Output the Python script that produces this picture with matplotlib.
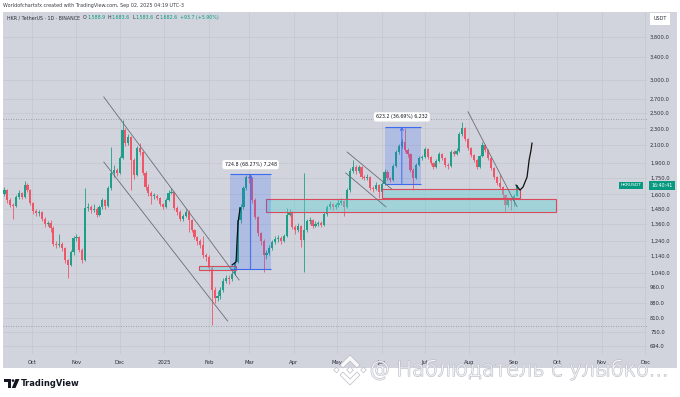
import matplotlib
matplotlib.use("Agg")
import matplotlib.pyplot as plt
import matplotlib.dates as mdates
import matplotlib.patheffects as pe
import matplotlib.transforms as mtransforms
from matplotlib.patches import Rectangle, Polygon, Circle
from matplotlib.ticker import FixedLocator, FuncFormatter, NullLocator
from matplotlib.colors import to_rgba
import pandas as pd

start_date = "2024-09-12"
first_open = 1600.0
closes = [1639, 1552, 1510, 1502, 1578, 1612, 1578, 1685, 1639, 1527,
          1461, 1445, 1450, 1398, 1360, 1368, 1331, 1219, 1212, 1219,
          1192, 1116, 1086, 1166, 1259, 1266, 1179, 1116, 1486, 1494,
          1469, 1477, 1430, 1494, 1552, 1502, 1658, 1800, 1830, 1800,
          1954, 2280, 2123, 2194, 1933, 1780, 2065, 2020, 1800, 1667,
          1612, 1586, 1590, 1569, 1518, 1494, 1552, 1612, 1621, 1486,
          1453, 1398, 1422, 1453, 1390, 1316, 1266, 1239, 1212, 1147,
          1135, 1068, 946, 906, 915, 946, 995, 1010, 1005, 1033,
          1104, 1390, 1494, 1658, 1761, 1751, 1552, 1414, 1294, 1239,
          1147, 1160, 1192, 1232, 1252, 1259, 1239, 1273, 1430, 1453,
          1338, 1316, 1345, 1246, 1316, 1383, 1390, 1345, 1360, 1368,
          1353, 1437, 1494, 1518, 1494, 1510, 1527, 1544, 1494, 1639,
          1820, 1860, 1820, 1860, 1761, 1751, 1761, 1658, 1648, 1685,
          1621, 1694, 1810, 1751, 1732, 1870, 2020, 2088, 2135, 2042,
          1998, 1830, 1751, 1881, 1954, 1965, 2054, 1965, 1902, 1860,
          1923, 1998, 1954, 1881, 1870, 2020, 1998, 2031, 2230, 2305,
          2170, 2065, 1987, 1933, 1860, 1976, 2100, 2042, 1954, 1850,
          1761, 1704, 1667, 1595, 1510, 1552, 1544, 1588.9, 1682.6]
highs = [1665, 1650, 1565, 1530, 1595, 1640, 1625, 1720, 1700, 1650,
         1535, 1480, 1470, 1460, 1410, 1385, 1390, 1345, 1240, 1290,
         1230, 1200, 1125, 1180, 1275, 1290, 1275, 1190, 1658, 1530,
         1510, 1520, 1490, 1510, 1570, 1560, 1680, 2077, 1880, 1850,
         1975, 2408, 2300, 2230, 2210, 1950, 2090, 2120, 2030, 1815,
         1690, 1630, 1610, 1605, 1580, 1530, 1565, 1640, 1660, 1630,
         1500, 1465, 1440, 1480, 1465, 1400, 1325, 1275, 1250, 1270,
         1160, 1150, 1080, 960, 940, 960, 1010, 1030, 1025, 1050,
         1120, 1410, 1520, 1680, 1785, 1790, 1760, 1570, 1425, 1305,
         1250, 1180, 1210, 1245, 1270, 1280, 1270, 1290, 1486, 1480,
         1460, 1350, 1370, 1355, 1800, 1400, 1410, 1400, 1380, 1385,
         1380, 1450, 1510, 1540, 1530, 1530, 1560, 1565, 1555, 1660,
         1850, 1935, 1880, 1880, 1870, 1780, 1790, 1770, 1680, 1710,
         1695, 1710, 1840, 1825, 1765, 1890, 2045, 2110, 2170, 2305,
         2060, 2010, 1850, 1900, 1975, 1990, 2080, 2065, 1975, 1915,
         1945, 2020, 2010, 1965, 1900, 2040, 2040, 2060, 2250, 2382,
         2320, 2185, 2080, 2000, 1945, 1990, 2130, 2115, 2055, 1965,
         1860, 1775, 1790, 1680, 1605, 1570, 1565, 1600, 1683.6]
lows = [1590, 1530, 1490, 1400, 1495, 1560, 1560, 1570, 1620, 1510,
        1440, 1420, 1420, 1380, 1340, 1345, 1300, 1205, 1195, 1200,
        1170, 1100, 1010, 1080, 1150, 1240, 1165, 1100, 1110, 1460,
        1445, 1450, 1410, 1420, 1480, 1480, 1495, 1640, 1760, 1770,
        1790, 1940, 2090, 2100, 1639, 1740, 1770, 1990, 1780, 1640,
        1590, 1520, 1560, 1550, 1500, 1475, 1485, 1540, 1600, 1470,
        1430, 1380, 1385, 1410, 1300, 1300, 1250, 1215, 1195, 1130,
        1110, 1050, 780, 880, 890, 900, 935, 985, 980, 995,
        1025, 1095, 1370, 1480, 1640, 1700, 1530, 1400, 1270, 1210,
        1044, 1120, 1150, 1180, 1220, 1235, 1220, 1230, 1265, 1420,
        1320, 1290, 1300, 1200, 1044, 1300, 1360, 1330, 1335, 1345,
        1335, 1345, 1425, 1480, 1470, 1480, 1495, 1510, 1420, 1485,
        1625, 1800, 1790, 1800, 1740, 1730, 1735, 1640, 1620, 1635,
        1569, 1610, 1685, 1735, 1710, 1720, 1860, 2000, 2070, 2020,
        1970, 1810, 1639, 1740, 1870, 1935, 1950, 1945, 1880, 1840,
        1850, 1910, 1930, 1860, 1840, 1860, 1975, 1985, 2020, 2210,
        2150, 2045, 1965, 1910, 1840, 1850, 1965, 2020, 1935, 1830,
        1740, 1685, 1650, 1570, 1453, 1490, 1470, 1500, 1583.6]

price_ticks = [694, 750, 810, 880, 960, 1040, 1140, 1240, 1360, 1480, 1600,
               1750, 1900, 2100, 2300, 2500, 2700, 3000, 3400, 3800]
month_ticks = ["2024-10-01", "2024-11-01", "2024-12-01", "2025-01-01", "2025-02-01",
               "2025-03-01", "2025-04-01", "2025-05-01", "2025-06-01", "2025-07-01",
               "2025-08-01", "2025-09-01", "2025-10-01", "2025-11-01", "2025-12-01"]
month_labels = ["Oct", "Nov", "Dec", "2025", "Feb", "Mar", "Apr", "May", "Jun", "Jul",
                "Aug", "Sep", "Oct", "Nov", "Dec"]
range_high = 2422
range_low = 777

# drawings on the chart: (dates, prices)
chan1_upper = (["2024-11-20", "2025-02-22"], [2733, 1000])
chan1_lower = (["2024-11-20", "2025-02-14"], [1912, 798])
chan2_upper = (["2025-05-08", "2025-06-08"], [2020, 1648])
chan2_lower = (["2025-05-07", "2025-06-04"], [1800, 1494])
aug_line = (["2025-07-31", "2025-09-03"], [2520, 1496])
curve_feb = (["2025-02-17 02:00", "2025-02-19 22:00", "2025-02-20 14:00",
              "2025-02-21 07:00", "2025-02-22 17:00"], [1086, 1104, 1246, 1375, 1486])
curve_sep = (["2025-09-02 07:00", "2025-09-05 02:00", "2025-09-07 05:00", "2025-09-10 00:00",
              "2025-09-11 10:00", "2025-09-12 18:00", "2025-09-13 10:00"],
             [1685, 1639, 1667, 1761, 1933, 2042, 2123])
zones = [("2025-03-13", "2025-09-30", 1453, 1561),
         ("2025-06-01", "2025-09-05", 1572, 1648),
         ("2025-01-25", "2025-02-20", 1056, 1080)]
measures = [("2025-02-16", "2025-03-16", 1061.6, 1786.4, "2025-03-02", "724.8 (68.27%) 7,248"),
            ("2025-06-03", "2025-06-28", 1698.6, 2321.8, "2025-06-15", "623.2 (36.69%) 6,232")]

BG = "#d1d4dc"
UP = "#1f9f89"
DOWN = "#f0566a"
TXT = "#2a2e39"
W, H = 680, 397

fig = plt.figure(figsize=(6.8, 3.97), dpi=100)
fig.patch.set_facecolor("white")
fig.patches.append(Rectangle((3 / W, 1 - 368 / H), 674 / W, 356 / H, transform=fig.transFigure,
                             facecolor=BG, edgecolor="none", zorder=0))

ax = fig.add_axes([3 / W, 1 - 354 / H, 644 / W, 342 / H], zorder=1)
ax.set_facecolor(BG)
for s in ax.spines.values():
    s.set_visible(False)

d2n = lambda d: mdates.date2num(pd.Timestamp(d))

dates = pd.date_range(start_date, periods=len(closes), freq="2D")
x = mdates.date2num(dates)
opens = [first_open] + closes[:-1]
colors = [UP if c >= o else DOWN for o, c in zip(opens, closes)]
bottoms = [min(o, c) for o, c in zip(opens, closes)]
heights = [max(abs(c - o), c * 0.004) for o, c in zip(opens, closes)]

ax.set_yscale("log")
ax.vlines(x, lows, highs, colors=colors, lw=0.6, zorder=2)
ax.bar(x, heights, width=1.5, bottom=bottoms, color=colors, linewidth=0, zorder=3)

ax.set_ylim(665.8, 4359)
ax.set_xlim(d2n("2024-09-11"), d2n("2025-12-02 07:00"))
ax.yaxis.set_major_locator(FixedLocator(price_ticks))
ax.yaxis.set_minor_locator(NullLocator())
ax.yaxis.set_major_formatter(FuncFormatter(lambda v, _: f"{v:,.1f}"))
ax.yaxis.tick_right()
ax.tick_params(axis="y", length=0, pad=2.2, labelsize=3.7, labelcolor=TXT)
ax.set_xticks([d2n(d) for d in month_ticks])
ax.set_xticklabels(month_labels)
ax.tick_params(axis="x", length=0, pad=4.5, labelsize=3.8, labelcolor=TXT)
ax.grid(True, color="#c4c7cf", lw=0.5)
ax.set_axisbelow(True)

ax.axhline(range_high, color="#8d909a", ls=(0, (1, 2)), lw=0.6, zorder=1)
ax.axhline(range_low, color="#8d909a", ls=(0, (1, 2)), lw=0.6, zorder=1)

# zones
for d0, d1, p0, p1 in zones:
    ax.add_patch(Rectangle((d2n(d0), p0), d2n(d1) - d2n(d0), p1 - p0,
                           facecolor=to_rgba("#5fd3d6", 0.42), edgecolor="#d94b5c",
                           lw=0.8, zorder=4))

# measure boxes
for d0, d1, p0, p1, dm, label in measures:
    ax.add_patch(Rectangle((d2n(d0), p0), d2n(d1) - d2n(d0), p1 - p0,
                           facecolor=to_rgba("#2962ff", 0.2), edgecolor="none", zorder=4))
    ax.hlines([p0, p1], d2n(d0), d2n(d1), colors="#3d6bf0", lw=0.8, zorder=5)
    ax.annotate("", xy=(d2n(dm), p1), xytext=(d2n(dm), p0),
                arrowprops=dict(arrowstyle="->", color="#3d6bf0", lw=0.7,
                                shrinkA=0, shrinkB=0, mutation_scale=5), zorder=5)
    ax.annotate(label, xy=(d2n(dm), p1), xytext=(0, 7), textcoords="offset points",
                ha="center", va="center", fontsize=3.4, color="#131722", zorder=6,
                bbox=dict(boxstyle="round,pad=0.45", fc="white", ec="none"))

# trend lines
for line in (chan1_upper, chan1_lower, chan2_upper, chan2_lower, aug_line):
    ax.plot([d2n(d) for d in line[0]], line[1], color="#6a6d78", lw=0.6, zorder=5)
for curve in (curve_feb, curve_sep):
    ax.plot([d2n(d) for d in curve[0]], curve[1], color="#111111", lw=0.9,
            solid_capstyle="round", zorder=6)

# last price labels
trans = mtransforms.blended_transform_factory(ax.transAxes, ax.transData)
ax.text(0.9752, closes[-1], "HKRUSDT", transform=trans, ha="center", va="center",
        fontsize=3.2, color="white", clip_on=False, zorder=7,
        bbox=dict(boxstyle="square,pad=0.35", fc="#089981", ec="none"))
ax.text(1.0233, closes[-1], "16:40:41", transform=trans, ha="center", va="center",
        fontsize=3.4, color="white", clip_on=False, zorder=7,
        bbox=dict(boxstyle="square,pad=0.4", fc="#089981", ec="none"))

# overlay in pixel coordinates
ov = fig.add_axes([0, 0, 1, 1], zorder=5)
ov.set_xlim(0, W)
ov.set_ylim(H, 0)
ov.axis("off")

ov.text(3, 6, "Worldofchartsfx created with TradingView.com, Sep 02, 2025 04:19 UTC-3",
        fontsize=3.5, color="#3a3d45", va="center")
ov.text(660, 19, "USDT", fontsize=3.5, color=TXT, ha="center", va="center",
        bbox=dict(boxstyle="square,pad=0.7", fc="white", ec="none"))

renderer = fig.canvas.get_renderer()
green = "#089981"
chg = closes[-1] - closes[-2]
pieces = [("HKR / TetherUS · 1D · BINANCE", TXT, 3.0),
          ("O", TXT, 0.4), (f"{opens[-1]:,.1f}", green, 2.5),
          ("H", TXT, 0.4), (f"{highs[-1]:,.1f}", green, 2.5),
          ("L", TXT, 0.4), (f"{lows[-1]:,.1f}", green, 2.5),
          ("C", TXT, 0.4), (f"{closes[-1]:,.1f}", green, 2.5),
          (f"+{chg:.1f} (+{chg / closes[-2] * 100:.2f}%)", green, 0)]
px = 7
for s, c, gap in pieces:
    t = ov.text(px, 17.5, s, fontsize=3.4, color=c, va="center")
    px += t.get_window_extent(renderer=renderer).width * W / fig.bbox.width + gap

# TradingView logo
ov.add_patch(Polygon([(4, 379), (11, 379), (11, 388), (8, 388), (8, 382), (4, 382)],
                     closed=True, fc="#131722", ec="none"))
ov.add_patch(Circle((13, 380.6), 1.3, fc="#131722", ec="none"))
ov.add_patch(Polygon([(15.5, 379), (19.5, 379), (15.5, 388), (11.8, 388)],
                     closed=True, fc="#131722", ec="none"))
ov.text(21, 383.5, "TradingView", fontsize=6, weight="bold", color="#131722", va="center")

# watermark
wm = dict(fc=(1, 1, 1, 0.85), ec="#b9bcc5", lw=0.5)
cx, cy = 350, 370
ov.add_patch(Polygon([(cx, 355), (cx + 10, 365), (cx + 7, 368), (cx, 361), (cx - 7, 368), (cx - 10, 365)], **wm))
ov.add_patch(Polygon([(cx, 385), (cx + 10, 375), (cx + 7, 372), (cx, 379), (cx - 7, 372), (cx - 10, 375)], **wm))
for dx, r in ((0, 3.4), (-13.5, 2.8), (13.5, 2.8)):
    ov.add_patch(Polygon([(cx + dx, cy - r), (cx + dx + r, cy), (cx + dx, cy + r), (cx + dx - r, cy)], **wm))
ov.text(369, 376, "@ Наблюдатель с улыбко...", fontsize=15, family=["DejaVu Sans"],
        weight="light", color="white", alpha=0.9, va="baseline", ha="left",
        path_effects=[pe.withStroke(linewidth=1.0, foreground="#b9bcc5")])

fig.savefig("out.png", dpi=100, facecolor="white")
